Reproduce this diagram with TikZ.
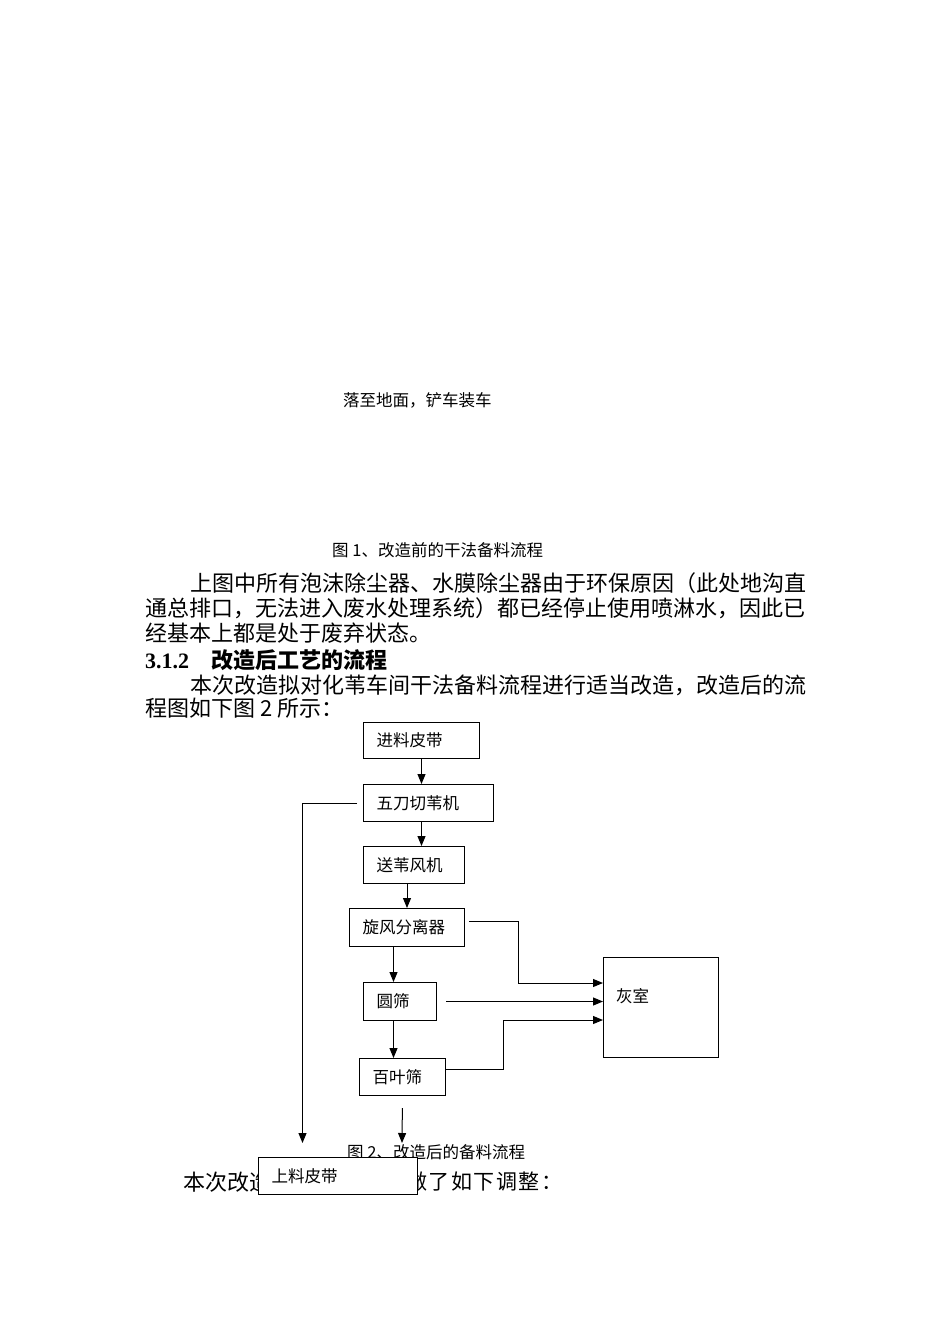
\documentclass[tikz,border=0pt]{standalone}
\usepackage{fontspec}
\setmainfont{Liberation Serif}
\newfontfamily\cjk{Noto Sans CJK SC}
\usetikzlibrary{arrows.meta}

\begin{document}
\begin{tikzpicture}[x=1pt, y=-1pt,
    box/.style={draw, line width=1pt, fill=white, anchor=north west, inner xsep=13pt, inner ysep=0pt, align=left, font=\fontsize{16.5}{18}\cjk},
    flow/.style={-{Triangle[length=10pt,width=8pt]}, line width=1pt},
    body/.style={anchor=west, inner sep=0pt, font=\fontsize{22}{24}\cjk},
    small/.style={anchor=west, inner sep=0pt, font=\fontsize{16.5}{18}\cjk}]
    \useasboundingbox (0,0) rectangle (950,1344);
    % text of the page
    \node[small] (fall) at (343,400) {落至地面，铲车装车};
    \node[small] (cap1) at (332,550) {图 1、改造前的干法备料流程};
    \node[body] (p1) at (190,583) {上图中所有泡沫除尘器、水膜除尘器由于环保原因（此处地沟直};
    \node[body] (p2) at (145,608) {通总排口，无法进入废水处理系统）都已经停止使用喷淋水，因此已};
    \node[body] (p3) at (145,633) {经基本上都是处于废弃状态。};
    \node[body, font=\fontsize{22}{24}\bfseries] (sec) at (145,660) {3.1.2\hspace{22pt}{\cjk 改造后工艺的流程}};
    \node[body] (p4) at (190,685) {本次改造拟对化苇车间干法备料流程进行适当改造，改造后的流};
    \node[body] (p5) at (145,708) {程图如下图 2 所示：};
    \node[small] (cap2) at (347,1152) {图 2、改造后的备料流程};
    \node[body] (adja) at (183,1182) {本次改造};
    \node[body, font=\fontsize{21}{24}\cjk] (adjb) at (406,1182) {做\hspace{1.5pt}了\hspace{1.5pt}如\hspace{1.5pt}下\hspace{1.5pt}调\hspace{1.5pt}整\hspace{1.5pt}：};
    % flow chart
    \node[box, text width=90pt, minimum height=36pt] (feed) at (363,722) {进料皮带};
    \node[box, text width=104pt, minimum height=37pt] (cutter) at (363,784) {五刀切苇机};
    \node[box, text width=75pt, minimum height=37pt] (fan) at (363,846) {送苇风机};
    \node[box, text width=89pt, minimum height=38pt] (cyclone) at (349,908) {旋风分离器};
    \node[box, text width=47pt, minimum height=38pt] (drum) at (363,982) {圆筛};
    \node[box, text width=60pt, minimum height=37pt] (louver) at (359,1058) {百叶筛};
    \node[box, text width=90pt, minimum width=115pt, minimum height=100pt, inner xsep=12pt, text depth=24pt] (ash) at (603,957) {灰室};
    \node[box, text width=133pt, minimum height=37pt] (belt) at (258,1157) {上料皮带};
    \coordinate (out) at (402,1143);
    \draw[flow] (feed.south) -- (feed.south |- cutter.north);
    \draw[flow] (cutter.south -| feed.south) -- (fan.north -| feed.south);
    \draw[flow] (fan.south -| cyclone.north) -- (cyclone.north);
    \draw[flow] ([xshift=-13.5pt]cyclone.south) -- ([xshift=-6.5pt]drum.north);
    \draw[flow] ([xshift=-6.5pt]drum.south) -- ([xshift=-9pt]louver.north);
    \draw[flow, shorten <=12pt] (louver.south) -- (out);
    \draw[flow, shorten <=6pt, shorten >=14pt] (cutter.west) -| ([xshift=-35.5pt]belt.north);
    \draw[flow, shorten <=4pt] ([yshift=6pt]cyclone.east) -- ++(53,0) |- ([yshift=-26pt]ash.north west);
    \draw[flow, shorten <=9pt] (drum.east) -- (drum.east -| ash.west);
    \draw[flow] ([yshift=8pt]louver.east) -- ++(57,0) |- ([yshift=-63pt]ash.north west);
\end{tikzpicture}
\end{document}
